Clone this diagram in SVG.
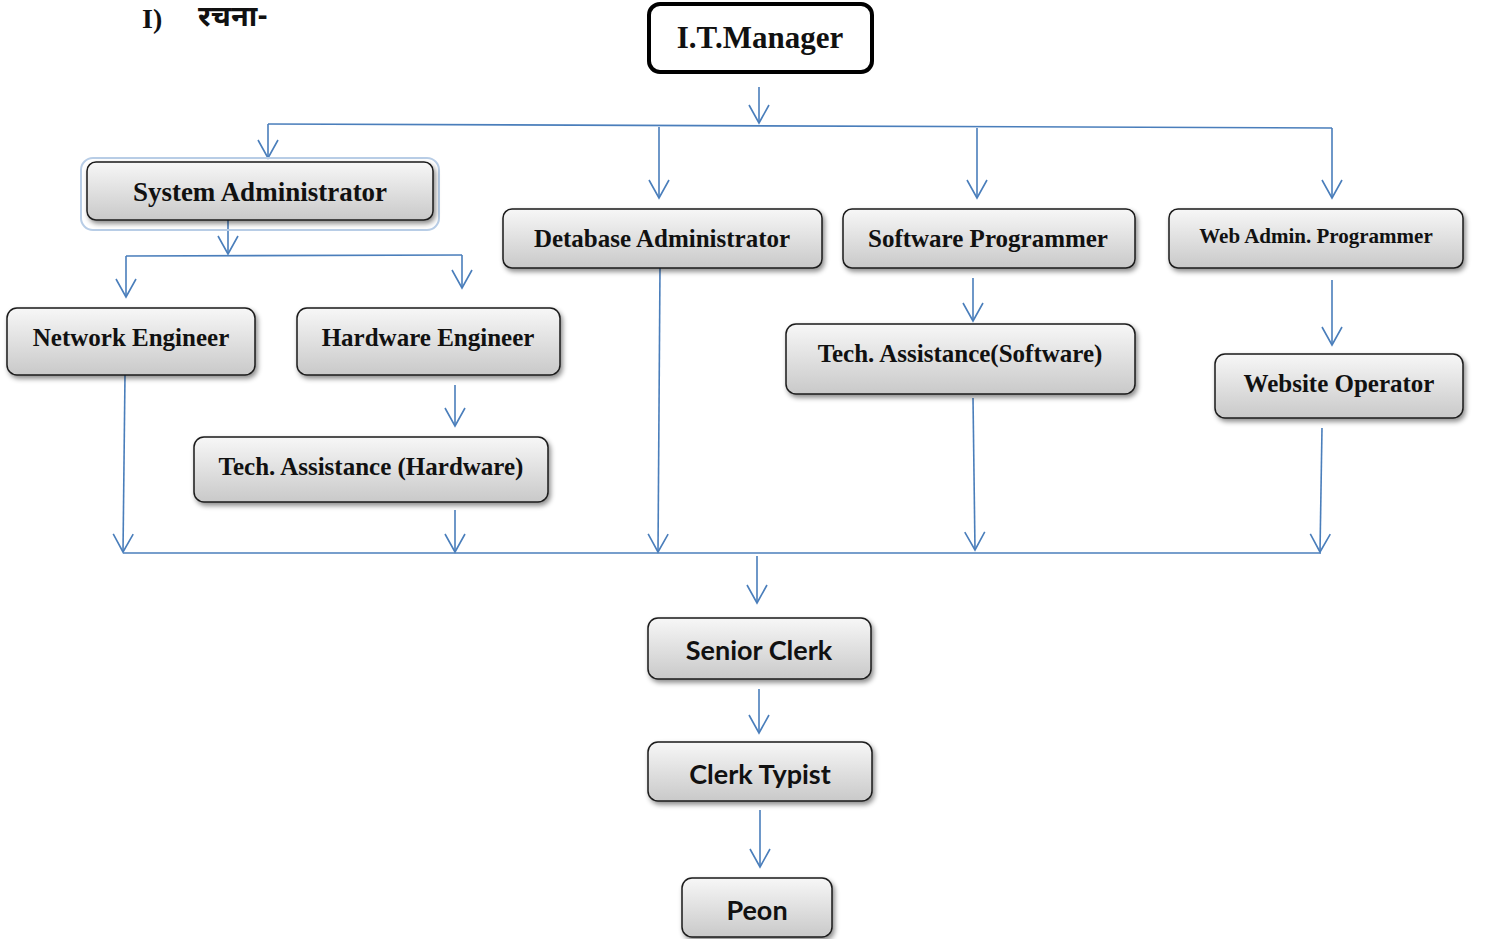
<svg xmlns="http://www.w3.org/2000/svg" width="1487" height="939" viewBox="0 0 1487 939">
<defs>
<linearGradient id="g" x1="0" y1="0" x2="0" y2="1">
<stop offset="0" stop-color="#f7f7f7"/>
<stop offset="1" stop-color="#c9c9c9"/>
</linearGradient>
<filter id="sh" x="-10%" y="-20%" width="125%" height="150%">
<feDropShadow dx="2" dy="3" stdDeviation="2.5" flood-color="#000" flood-opacity="0.45"/>
</filter>
<marker id="ar" markerUnits="userSpaceOnUse" markerWidth="24" markerHeight="24" viewBox="-20 -12 24 24" refX="0" refY="0" orient="auto">
<path d="M-18,-10 L0,0 L-18,10" fill="none" stroke="#4a7ebb" stroke-width="1.6"/>
</marker>
<style>
.box{fill:url(#g);stroke:#1a1a1a;stroke-width:1.5;filter:url(#sh)}
.t{font-family:"Liberation Serif","Times New Roman",serif;font-weight:bold;fill:#111;text-anchor:middle}
.s{font-family:Lato,"Open Sans","Liberation Sans",sans-serif;font-weight:bold;fill:#111;text-anchor:middle}
.c line,.c polyline{stroke:#4a7ebb;stroke-width:1.6;fill:none}
.a{marker-end:url(#ar)}
</style>
</defs>
<g id="heading">
<text x="142" y="28" font-family="'Liberation Serif',serif" font-weight="bold" font-size="28" fill="#111">I)</text>
<text x="198" y="26" font-family="'Noto Sans Devanagari','Noto Sans',sans-serif" font-weight="bold" font-size="29" fill="#111">रचना-</text>
</g>
<g class="c" id="connectors">
<line class="a" x1="759" y1="87" x2="759" y2="123"/>
<line x1="268" y1="124" x2="1332" y2="128"/>
<line class="a" x1="268" y1="124" x2="268" y2="158"/>
<line class="a" x1="659" y1="127" x2="659" y2="198"/>
<line class="a" x1="977" y1="128" x2="977" y2="198"/>
<line class="a" x1="1332" y1="128" x2="1332" y2="198"/>
<line class="a" x1="228" y1="220" x2="228" y2="254"/>
<line x1="126" y1="256" x2="462" y2="255"/>
<line class="a" x1="126" y1="256" x2="126" y2="297"/>
<line class="a" x1="462" y1="255" x2="462" y2="288"/>
<line class="a" x1="455" y1="385" x2="455" y2="426"/>
<line class="a" x1="973" y1="278" x2="973" y2="321"/>
<line class="a" x1="1332" y1="280" x2="1332" y2="345"/>
<line x1="123" y1="553" x2="1321" y2="553"/>
<line class="a" x1="125" y1="375" x2="123" y2="552"/>
<line class="a" x1="455" y1="510" x2="455" y2="552"/>
<line class="a" x1="660" y1="268" x2="658" y2="552"/>
<line class="a" x1="973" y1="398" x2="975" y2="550"/>
<line class="a" x1="1322" y1="428" x2="1320" y2="552"/>
<line class="a" x1="757" y1="556" x2="757" y2="603"/>
<line class="a" x1="759" y1="689" x2="759" y2="733"/>
<line class="a" x1="760" y1="810" x2="760" y2="867"/>
</g>
<g id="itmanager">
<rect x="649" y="4" width="223" height="68" rx="11" fill="#fff" stroke="#000" stroke-width="4"/>
<text class="t" x="760" y="48" font-size="31">I.T.Manager</text>
</g>
<g id="sysadmin">
<rect x="81" y="158" width="358" height="72" rx="12" fill="none" stroke="#b8cde6" stroke-width="2"/>
<rect class="box" x="87" y="162" width="346" height="58" rx="9"/>
<text class="t" x="260" y="201" font-size="27">System Administrator</text>
</g>
<g id="dbadmin">
<rect class="box" x="503" y="209" width="319" height="59" rx="9"/>
<text class="t" x="662" y="247" font-size="25">Detabase Administrator</text>
</g>
<g id="swprog">
<rect class="box" x="843" y="209" width="292" height="59" rx="9"/>
<text class="t" x="988" y="247" font-size="25">Software Programmer</text>
</g>
<g id="webadmin">
<rect class="box" x="1169" y="209" width="294" height="59" rx="9"/>
<text class="t" x="1316" y="243" font-size="21">Web Admin. Programmer</text>
</g>
<g id="neteng">
<rect class="box" x="7" y="308" width="248" height="67" rx="10"/>
<text class="t" x="131" y="346" font-size="25">Network Engineer</text>
</g>
<g id="hweng">
<rect class="box" x="297" y="308" width="263" height="67" rx="10"/>
<text class="t" x="428" y="346" font-size="25">Hardware Engineer</text>
</g>
<g id="tahw">
<rect class="box" x="194" y="437" width="354" height="65" rx="10"/>
<text class="t" x="371" y="475" font-size="25">Tech. Assistance (Hardware)</text>
</g>
<g id="tasw">
<rect class="box" x="786" y="324" width="349" height="70" rx="10"/>
<text class="t" x="960" y="362" font-size="25">Tech. Assistance(Software)</text>
</g>
<g id="webop">
<rect class="box" x="1215" y="354" width="248" height="64" rx="10"/>
<text class="t" x="1339" y="392" font-size="25">Website Operator</text>
</g>
<g id="srclerk">
<rect class="box" x="648" y="618" width="223" height="61" rx="10"/>
<text class="s" x="759" y="660" font-size="27">Senior Clerk</text>
</g>
<g id="clerktypist">
<rect class="box" x="648" y="742" width="224" height="59" rx="10"/>
<text class="s" x="760" y="784" font-size="27">Clerk Typist</text>
</g>
<g id="peon">
<rect class="box" x="682" y="878" width="150" height="59" rx="10"/>
<text class="s" x="757" y="920" font-size="27">Peon</text>
</g>
</svg>
